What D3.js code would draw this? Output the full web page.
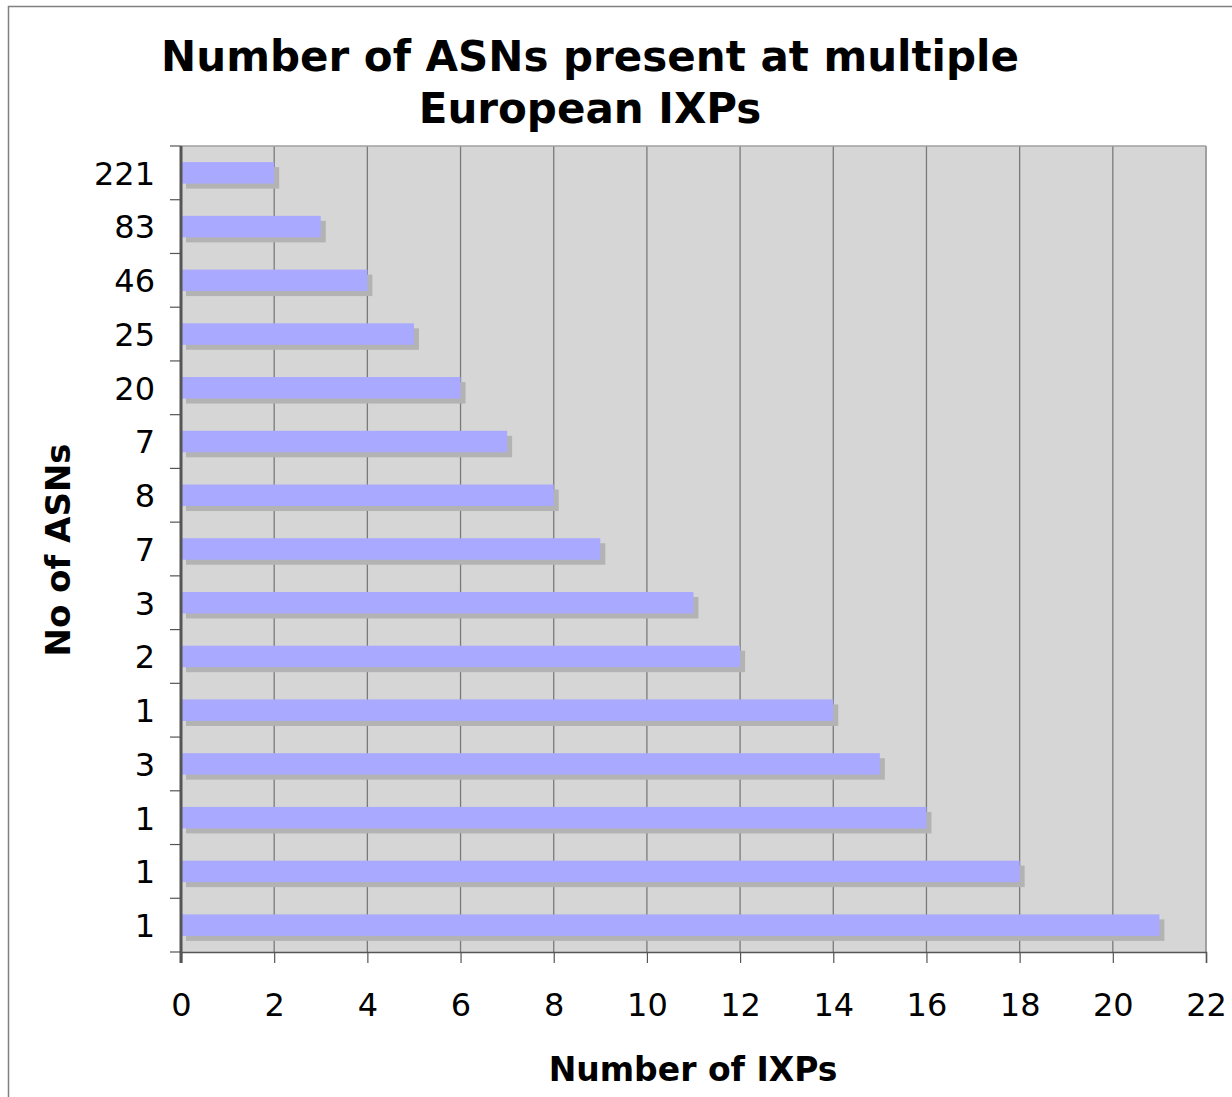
<!DOCTYPE html>
<html>
<head>
<meta charset="utf-8">
<script src="https://cdn.jsdelivr.net/npm/d3@7"></script>
<style>
body { margin: 0; background: #fff; }
text { font-family: "DejaVu Sans", Verdana, sans-serif; }
</style>
</head>
<body>
<script>
// ASN counts shown as y labels (top to bottom), and number of IXPs for each
var asnLabels = ["221", "83", "46", "25", "20", "7", "8", "7", "3", "2", "1", "3", "1", "1", "1"]
var ixpCounts = [2, 3, 4, 5, 6, 7, 8, 9, 11, 12, 14, 15, 16, 18, 21]
var xTicks = [0, 2, 4, 6, 8, 10, 12, 14, 16, 18, 20, 22]
var titleLines = ["Number of ASNs present at multiple", "European IXPs"]

var width = 1232, height = 1097
var margin = {top: 146, right: 26, bottom: 145, left: 181}
var w = width - margin.left - margin.right
var h = height - margin.top - margin.bottom

var svg = d3.select("body").append("svg")
    .attr("width", width)
    .attr("height", height)

// outer frame
svg.append("rect")
    .attr("x", 8.5).attr("y", 6.5)
    .attr("width", 1240).attr("height", 1200)
    .attr("fill", "none").attr("stroke", "#808080").attr("stroke-width", 1.5)

var g = svg.append("g")
    .attr("transform", "translate(" + margin.left + "," + margin.top + ")")

var x = d3.scaleLinear().domain([0, 22]).range([0, w])
var y = d3.scaleBand()
    .domain(d3.range(ixpCounts.length))
    .range([0, h])
    .paddingInner(0.6).paddingOuter(0.3)

// plot background
g.append("rect")
    .attr("width", w).attr("height", h)
    .attr("fill", "#d6d6d6")

// vertical gridlines
g.selectAll(".grid")
    .data(xTicks.slice(1))
    .enter().append("line")
    .attr("x1", function (d) { return x(d) })
    .attr("x2", function (d) { return x(d) })
    .attr("y1", 0).attr("y2", h)
    .attr("stroke", "#7a7a7a").attr("stroke-width", 1.3)

// bar shadows
g.selectAll(".shadow")
    .data(ixpCounts)
    .enter().append("rect")
    .attr("x", 5)
    .attr("y", function (d, i) { return y(i) + 5 })
    .attr("width", function (d) { return x(d) })
    .attr("height", y.bandwidth())
    .attr("fill", "#b3b3b3")

// bars
g.selectAll(".bar")
    .data(ixpCounts)
    .enter().append("rect")
    .attr("x", 1)
    .attr("y", function (d, i) { return y(i) })
    .attr("width", function (d) { return x(d) - 1 })
    .attr("height", y.bandwidth())
    .attr("fill", "#a9a9ff")

// plot frame lines: top and right lighter
g.append("line").attr("x1", 0).attr("x2", w).attr("y1", 0).attr("y2", 0)
    .attr("stroke", "#a0a0a0").attr("stroke-width", 1.5)
g.append("line").attr("x1", w).attr("x2", w).attr("y1", 0).attr("y2", h)
    .attr("stroke", "#a0a0a0").attr("stroke-width", 1.5)

// x axis
var xAxis = d3.axisBottom(x).tickValues(xTicks).tickSize(11).tickPadding(30)
var gx = g.append("g")
    .attr("transform", "translate(0," + h + ")")
    .call(xAxis)
gx.select(".domain").attr("stroke", "#555").attr("stroke-width", 1.5)
gx.selectAll(".tick line").attr("stroke", "#555").attr("stroke-width", 1.2)
gx.selectAll("text").attr("font-size", 32).attr("fill", "#000")
    .style("font-family", "'DejaVu Sans', Verdana, sans-serif")

// y axis: ticks on band boundaries, labels centred on bands
var step = h / ixpCounts.length
var gy = g.append("g")
gy.append("line").attr("x1", 0).attr("x2", 0).attr("y1", 0).attr("y2", h + 11)
    .attr("stroke", "#555").attr("stroke-width", 3)
gy.selectAll(".ytick")
    .data(d3.range(ixpCounts.length + 1))
    .enter().append("line")
    .attr("x1", -11).attr("x2", 0)
    .attr("y1", function (d) { return d * step })
    .attr("y2", function (d) { return d * step })
    .attr("stroke", "#555").attr("stroke-width", 1.2)
gy.selectAll(".ylabel")
    .data(asnLabels)
    .enter().append("text")
    .attr("x", -26)
    .attr("y", function (d, i) { return y(i) + y.bandwidth() / 2 })
    .attr("dy", "0.37em")
    .attr("text-anchor", "end")
    .attr("font-size", 32)
    .text(function (d) { return d })

// title
svg.selectAll(".title")
    .data(titleLines)
    .enter().append("text")
    .attr("x", 590)
    .attr("y", function (d, i) { return 71 + i * 52 })
    .attr("text-anchor", "middle")
    .attr("font-size", 42)
    .attr("font-weight", "bold")
    .text(function (d) { return d })

// axis titles
svg.append("text")
    .attr("x", 693).attr("y", 1081)
    .attr("text-anchor", "middle")
    .attr("font-size", 33).attr("font-weight", "bold")
    .text("Number of IXPs")

svg.append("text")
    .attr("transform", "translate(70,550) rotate(-90)")
    .attr("text-anchor", "middle")
    .attr("font-size", 34).attr("font-weight", "bold")
    .text("No of ASNs")
</script>
</body>
</html>
